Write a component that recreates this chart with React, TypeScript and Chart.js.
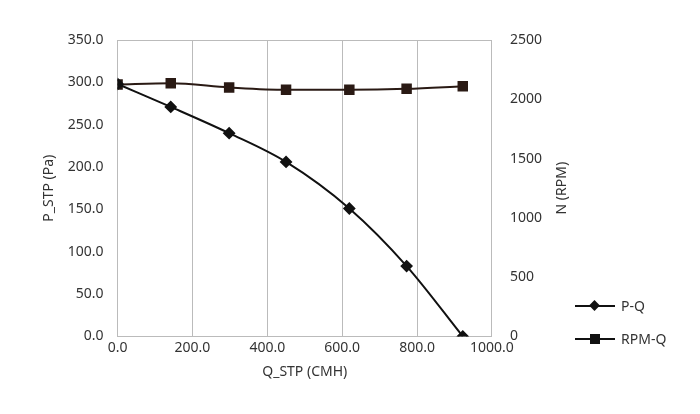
import React, { useEffect, useRef } from "react";
import { Chart, registerables } from "chart.js";
Chart.register(...registerables);

const flowPQ = [0, 142, 298, 450, 619, 772, 922];
const pressure = [298, 271, 240, 206, 151, 83, 0];
const flowRPM = [0, 142, 298, 450, 619, 772, 922];
const rpm = [2125, 2135, 2100, 2080, 2080, 2088, 2110];

export default function App() {
  const ref = useRef<HTMLCanvasElement>(null);
  useEffect(() => {
    document.body.style.margin = "0";
    const font = { family: "'Noto Sans', sans-serif", size: 14 };
    const c = new Chart(ref.current!, {
      type: "line",
      data: {
        datasets: [
          { label: "P-Q", data: flowPQ.map((x, i) => ({ x, y: pressure[i] })), yAxisID: "y", borderColor: "#111", backgroundColor: "#111", borderWidth: 2, pointStyle: "rectRot", pointRadius: 5, cubicInterpolationMode: "monotone" },
          { label: "RPM-Q", data: flowRPM.map((x, i) => ({ x, y: rpm[i] })), yAxisID: "y1", borderColor: "#2a1a14", backgroundColor: "#2a1a14", borderWidth: 2, pointStyle: "rect", pointRadius: 6, cubicInterpolationMode: "monotone" },
        ],
      },
      options: {
        animation: false, responsive: false,
        layout: { padding: { left: 37, right: 148, top: 40, bottom: 30 } },
        plugins: { legend: { display: false }, tooltip: { enabled: false } },
        scales: {
          x: { type: "linear", min: 0, max: 1000, ticks: { stepSize: 200, color: "#333", font, callback: (v: any) => Number(v).toFixed(1) }, grid: { color: "#bbb", drawTicks: false }, border: { color: "#bbb" }, title: { display: true, text: "Q_STP (CMH)", color: "#333", font } },
          y: { min: 0, max: 350, ticks: { stepSize: 50, color: "#333", font, padding: 6, callback: (v: any) => Number(v).toFixed(1) }, grid: { display: false }, border: { color: "#bbb" }, title: { display: true, text: "P_STP (Pa)", color: "#333", font } },
          y1: { position: "right", min: 0, max: 2500, ticks: { stepSize: 500, color: "#333", font, padding: 10, callback: (v: any) => String(v) }, grid: { display: false }, border: { color: "#bbb" } },
        },
      },
      plugins: [{
        id: "extras",
        afterDraw(ch: any) {
          const { ctx, chartArea: a } = ch;
          ctx.save(); ctx.strokeStyle = "#bbb"; ctx.lineWidth = 1;
          ctx.beginPath(); ctx.moveTo(a.left, a.top + 0.5); ctx.lineTo(a.right, a.top + 0.5); ctx.stroke();
          ctx.translate(562, (a.top + a.bottom) / 2); ctx.rotate(-Math.PI / 2);
          ctx.fillStyle = "#333"; ctx.font = "14px 'Noto Sans', sans-serif"; ctx.textAlign = "center"; ctx.textBaseline = "middle";
          ctx.fillText("N (RPM)", 0, 0);
          ctx.restore();
        },
      }],
    });
    return () => c.destroy();
  }, []);
  const item = (top: number, label: string, shape: any) => (
    <div style={{ position: "absolute", left: 575, top, display: "flex", alignItems: "center", font: "14px 'Noto Sans', sans-serif", color: "#333" }}>
      <div style={{ position: "relative", width: 40, height: 2, background: "#111", marginRight: 6 }}>
        <div style={{ position: "absolute", left: 15, top: -4, width: 9, height: 9, background: "#111", ...shape }} />
      </div>{label}
    </div>
  );
  return (
    <div style={{ position: "relative", width: 700, height: 414 }}>
      <canvas ref={ref} width={700} height={414} />
      {item(296, "P-Q", { transform: "rotate(45deg) scale(0.85)" })}
      {item(329, "RPM-Q", { width: 10, height: 10, top: -4 })}
    </div>
  );
}
